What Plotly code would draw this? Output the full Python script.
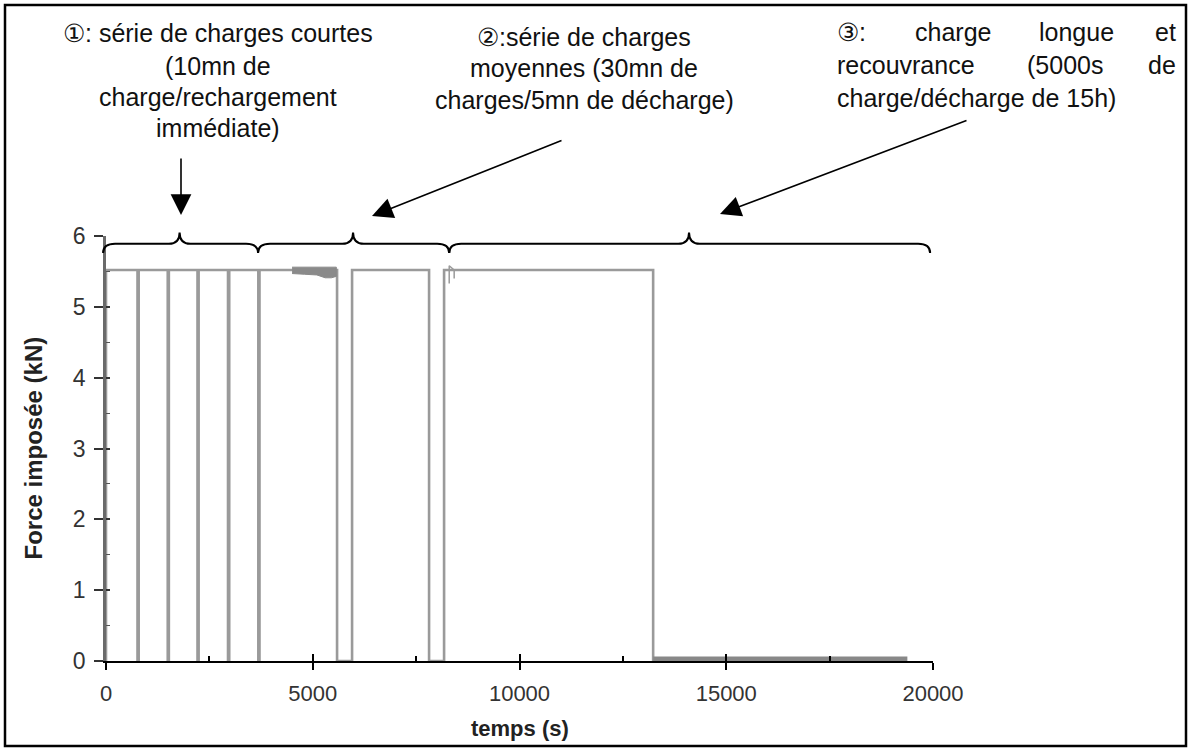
import plotly.graph_objects as go

# ---------------- data ----------------
LEVEL = 5.52                      # imposed force during a charge (kN)
rise_times = [0, 790, 1520, 2240, 2980, 3712, 5951, 8176]          # s, load applied
drop_times = [762, 1493, 2213, 2951, 3684, 5588, 7813, 13232]      # s, load removed
recovery_end = 19380              # s, end of recovery record (force = 0)
noise_t = [4500, 4800, 5100, 5300, 5450, 5570]                     # noisy part of charge
noise_hi = [5.56, 5.56, 5.56, 5.56, 5.56, 5.56]
noise_lo = [5.47, 5.46, 5.45, 5.41, 5.41, 5.43]
glitch_t = [8300, 8300, 8300, 8420, 8420, 8420]
glitch_y = [5.52, 5.33, 5.58, 5.52, 5.40, 5.52]

x_ticks = [0, 5000, 10000, 15000, 20000]
y_ticks = [0, 1, 2, 3, 4, 5, 6]

# brace groups (start, peak, end) in seconds
braces = [(-70, 1780, 3677), (3677, 5975, 8300), (8300, 14100, 19930)]

# ---------------- build the step signal ----------------
t, f = [], []
for r, d in zip(rise_times, drop_times):
    t += [r, r, d, d]
    f += [0, LEVEL, LEVEL, 0]
t_main, f_main = t, f

X0, X1, Y0, Y1 = 0, 20000, 0, 6
L, R, T, B = 106, 258, 236, 90
W, H = 1191, 751
PW, PH = W - L - R, H - T - B


def px(x):
    return (x - X0) / (X1 - X0)


def py(y):
    return (y - Y0) / (Y1 - Y0)


def ppx(p):  # screen pixel -> paper x
    return (p - L) / PW


def ppy(p):  # screen pixel -> paper y
    return (H - B - p) / PH


fig = go.Figure()
fig.add_trace(go.Scatter(x=t_main, y=f_main, mode="lines",
                         line=dict(color="#9a9a9a", width=2.6), hoverinfo="skip"))
fig.add_trace(go.Scatter(x=noise_t + noise_t[::-1], y=noise_hi + noise_lo[::-1],
                         mode="lines", fill="toself", fillcolor="#8a8a8a",
                         line=dict(color="#8a8a8a", width=1), hoverinfo="skip"))
fig.add_trace(go.Scatter(x=glitch_t, y=glitch_y, mode="lines",
                         line=dict(color="#9a9a9a", width=1.5), hoverinfo="skip"))
fig.add_trace(go.Scatter(x=[drop_times[-1], recovery_end], y=[0, 0], mode="lines",
                         line=dict(color="#888888", width=9), hoverinfo="skip"))
# invisible trace carrying the overlay axes (inner half of the crossing ticks)
fig.add_trace(go.Scatter(x=[X0], y=[Y0], xaxis="x2", yaxis="y2", mode="markers",
                         marker=dict(opacity=0), hoverinfo="skip"))

shapes = []
# curly braces
yl, ym, yp = py(5.76), py(5.89), py(6.05)
re_, rp = 290 / (X1 - X0), 260 / (X1 - X0)
for a, m, b in braces:
    a, m, b = px(a), px(m), px(b)
    path = (f"M {a},{yl} Q {a},{ym} {a+re_},{ym} L {m-rp},{ym} "
            f"Q {m},{ym} {m},{yp} Q {m},{ym} {m+rp},{ym} "
            f"L {b-re_},{ym} Q {b},{ym} {b},{yl}")
    shapes.append(dict(type="path", path=path, xref="paper", yref="paper",
                       line=dict(color="black", width=2)))
# outer frame
shapes.append(dict(type="rect", xref="paper", yref="paper",
                   x0=ppx(5), x1=ppx(1186), y0=ppy(746), y1=ppy(5),
                   line=dict(color="black", width=2.5), fillcolor="rgba(0,0,0,0)"))

FONT = "Liberation Sans, Arial, sans-serif"
ann = []
# arrows (tip in screen px, tail offset in px)
for (xt, yt, ax, ay) in [(181, 215, 0, -58), (372, 216, 191, -76), (720, 214, 248, -94)]:
    ann.append(dict(x=ppx(xt), y=ppy(yt), xref="paper", yref="paper", ax=ax, ay=ay,
                    text="", showarrow=True, arrowhead=2, arrowsize=2.6,
                    arrowwidth=1.6, arrowcolor="black"))


def txt(s, xp, yp_, xanchor="center", size=25):
    ann.append(dict(text=s, x=ppx(xp), y=ppy(yp_), xref="paper", yref="paper",
                    xanchor=xanchor, yanchor="middle", showarrow=False,
                    font=dict(family=FONT, size=size, color="#111111")))


# block 1
for s, y in [("①: série de charges courtes", 33), ("(10mn de", 66),
             ("charge/rechargement", 97), ("immédiate)", 128)]:
    txt(s, 218, y)
# block 2
for s, y in [("②:série de charges", 37), ("moyennes (30mn de", 68),
             ("charges/5mn de décharge)", 100)]:
    txt(s, 584, y)
# block 3 (justified)
txt("③:", 835, 32, "left")
txt("charge", 913, 32, "left")
txt("longue", 1037, 32, "left")
txt("et", 1178, 32, "right")
txt("recouvrance", 835, 65, "left")
txt("(5000s", 1025, 65, "left")
txt("de", 1178, 65, "right")
txt("charge/décharge de 15h)", 835, 98, "left")

# axis titles
ann.append(dict(text="<b>temps (s)</b>", x=0.5, y=ppy(728), xref="paper", yref="paper",
                showarrow=False, xanchor="center", yanchor="middle",
                font=dict(family=FONT, size=22, color="#222222")))
ann.append(dict(text="<b>Force imposée (kN)</b>", x=ppx(33), y=0.5, xref="paper",
                yref="paper", showarrow=False, textangle=-90, xanchor="center",
                yanchor="middle", font=dict(family=FONT, size=24, color="#222222")))

fig.update_layout(
    width=W, height=H, margin=dict(l=L, r=R, t=T, b=B),
    paper_bgcolor="white", plot_bgcolor="white", showlegend=False,
    shapes=shapes, annotations=ann,
    xaxis=dict(range=[X0, X1], tickvals=x_ticks, ticktext=[str(v) for v in x_ticks],
               showgrid=False, zeroline=False, showline=True, linecolor="black",
               linewidth=1.5, ticks="outside", ticklen=7, tickwidth=1.5,
               tickcolor="black", ticklabelstandoff=5,
               tickfont=dict(family=FONT, size=22, color="#333333"),
               minor=dict(tickvals=[2500, 7500, 12500, 17500], ticks="inside",
                          ticklen=5, tickwidth=1.5, tickcolor="black")),
    yaxis=dict(range=[Y0, Y1], tickvals=y_ticks, showgrid=False, zeroline=False,
               showline=True, linecolor="#6a6a6a", linewidth=2.5, ticks="outside",
               ticklen=9, tickwidth=1.5, tickcolor="#333333", ticklabelstandoff=4,
               tickfont=dict(family=FONT, size=23, color="#333333"),
               minor=dict(tickvals=[0.5, 1.5, 2.5, 3.5, 4.5, 5.5], ticks="inside",
                          ticklen=4, tickwidth=1.2, tickcolor="#555555")),
    xaxis2=dict(range=[X0, X1], overlaying="x", anchor="y2", side="bottom",
                tickvals=x_ticks, showticklabels=False, ticks="inside", ticklen=7,
                tickwidth=1.5, tickcolor="black", showgrid=False, zeroline=False,
                showline=False),
    yaxis2=dict(range=[Y0, Y1], overlaying="y", anchor="x2", side="left",
                tickvals=y_ticks, showticklabels=False, ticks="inside", ticklen=4,
                tickwidth=1.5, tickcolor="#333333", showgrid=False, zeroline=False,
                showline=False),
)

fig.write_html("out.html")
